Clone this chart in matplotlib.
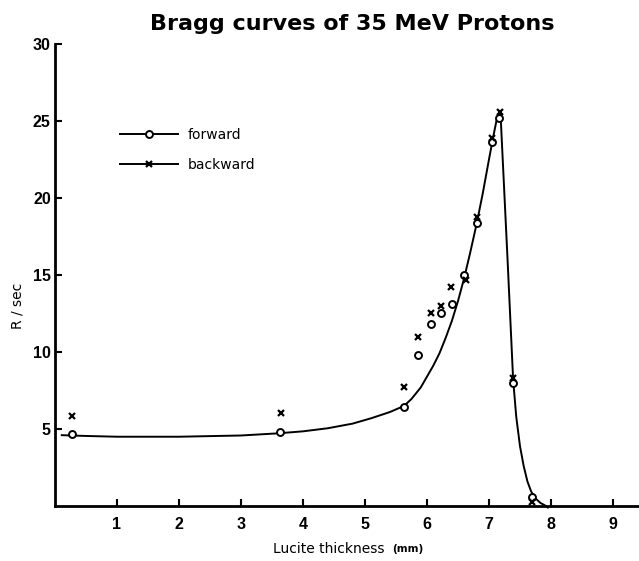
import matplotlib
matplotlib.use("Agg")
import matplotlib.pyplot as plt
from matplotlib.lines import Line2D

fwd_x = [0.28, 3.63, 5.63, 5.85, 6.06, 6.23, 6.41, 6.60, 6.81, 7.05, 7.17, 7.39, 7.69]
fwd_y = [4.65, 4.80, 6.45, 9.80, 11.8, 12.55, 13.1, 15.0, 18.4, 23.65, 25.2, 7.97, 0.56]
bwd_x = [0.27, 3.65, 5.63, 5.86, 6.06, 6.22, 6.39, 6.63, 6.81, 7.05, 7.18, 7.39, 7.69]
bwd_y = [5.84, 6.04, 7.75, 11.0, 12.55, 13.0, 14.2, 14.7, 18.8, 23.9, 25.6, 8.33, 0.25]

curve_x = [0.11, 0.5, 1.0, 2.0, 3.0, 3.6, 4.0, 4.4, 4.8, 5.1, 5.4, 5.63, 5.75, 5.9,
           6.0, 6.1, 6.2, 6.3, 6.4, 6.5, 6.6, 6.7, 6.8, 6.9, 7.0, 7.07, 7.12, 7.16,
           7.185, 7.21, 7.3, 7.39, 7.44, 7.5, 7.56, 7.62, 7.68, 7.75, 7.83, 7.9, 7.95]
curve_y = [4.6, 4.55, 4.5, 4.5, 4.58, 4.72, 4.85, 5.05, 5.35, 5.7, 6.1, 6.5, 6.95, 7.7,
           8.4, 9.1, 9.9, 10.9, 12.0, 13.3, 14.8, 16.5, 18.3, 20.3, 22.5, 24.0, 25.0, 25.5,
           25.6, 23.5, 16.0, 8.2, 5.8, 3.9, 2.6, 1.6, 0.95, 0.5, 0.2, 0.05, -0.1]

x_ticks = [1, 2, 3, 4, 5, 6, 7, 8, 9]
y_ticks = [5, 10, 15, 20, 25, 30]

tick_font = ["Liberation Sans", "DejaVu Sans"]

fig = plt.figure(figsize=(6.39, 5.61), dpi=100)
ax = fig.add_axes([0.086, 0.098, 0.914, 0.8235])

ax.plot(curve_x, curve_y, color="k", lw=1.4, clip_on=False, zorder=2,
        solid_joinstyle="round")
ax.plot(fwd_x, fwd_y, ls="none", marker="o", ms=5, mfc="white", mec="k",
        mew=1.4, clip_on=False, zorder=3)
ax.plot(bwd_x, bwd_y, ls="none", marker="x", ms=4.5, color="k",
        mew=1.6, clip_on=False, zorder=4)

ax.set_xlim(0, 9.42)
ax.set_ylim(0, 30)
ax.set_xticks(x_ticks)
ax.set_yticks(y_ticks)
ax.tick_params(direction="in", width=1.5, length=5, pad=3)
ax.tick_params(axis="x", pad=8)
for lab in ax.get_xticklabels() + ax.get_yticklabels():
    lab.set_family(tick_font)
    lab.set_fontweight("bold")
    lab.set_fontsize(11.5)

for s in ["top", "right"]:
    ax.spines[s].set_visible(False)
for s in ["left", "bottom"]:
    ax.spines[s].set_linewidth(2)

# legend
handles = [
    Line2D([], [], color="k", lw=1.4, marker="o", ms=5, mfc="white", mew=1.4),
    Line2D([], [], color="k", lw=1.4, marker="x", ms=4.5, mew=1.6),
]
ax.legend(handles, ["forward", "backward"], loc="upper left",
          bbox_to_anchor=(0.09, 0.846), frameon=False, numpoints=1,
          handlelength=4.2, handletextpad=0.7, labelspacing=1.2,
          prop={"size": 10})

fig.text(0.551, 0.958, "Bragg curves of 35 MeV Protons", ha="center", va="center",
         fontsize=16, fontweight="bold")
fig.text(0.515, 0.022, "Lucite thickness", ha="center", va="center", fontsize=10)
fig.text(0.638, 0.022, "(mm)", ha="center", va="center", fontsize=7.5,
         fontweight="bold")
fig.text(0.028, 0.455, "R / sec", ha="center", va="center", rotation=90,
         fontsize=10)

fig.savefig("out.png", dpi=100)
